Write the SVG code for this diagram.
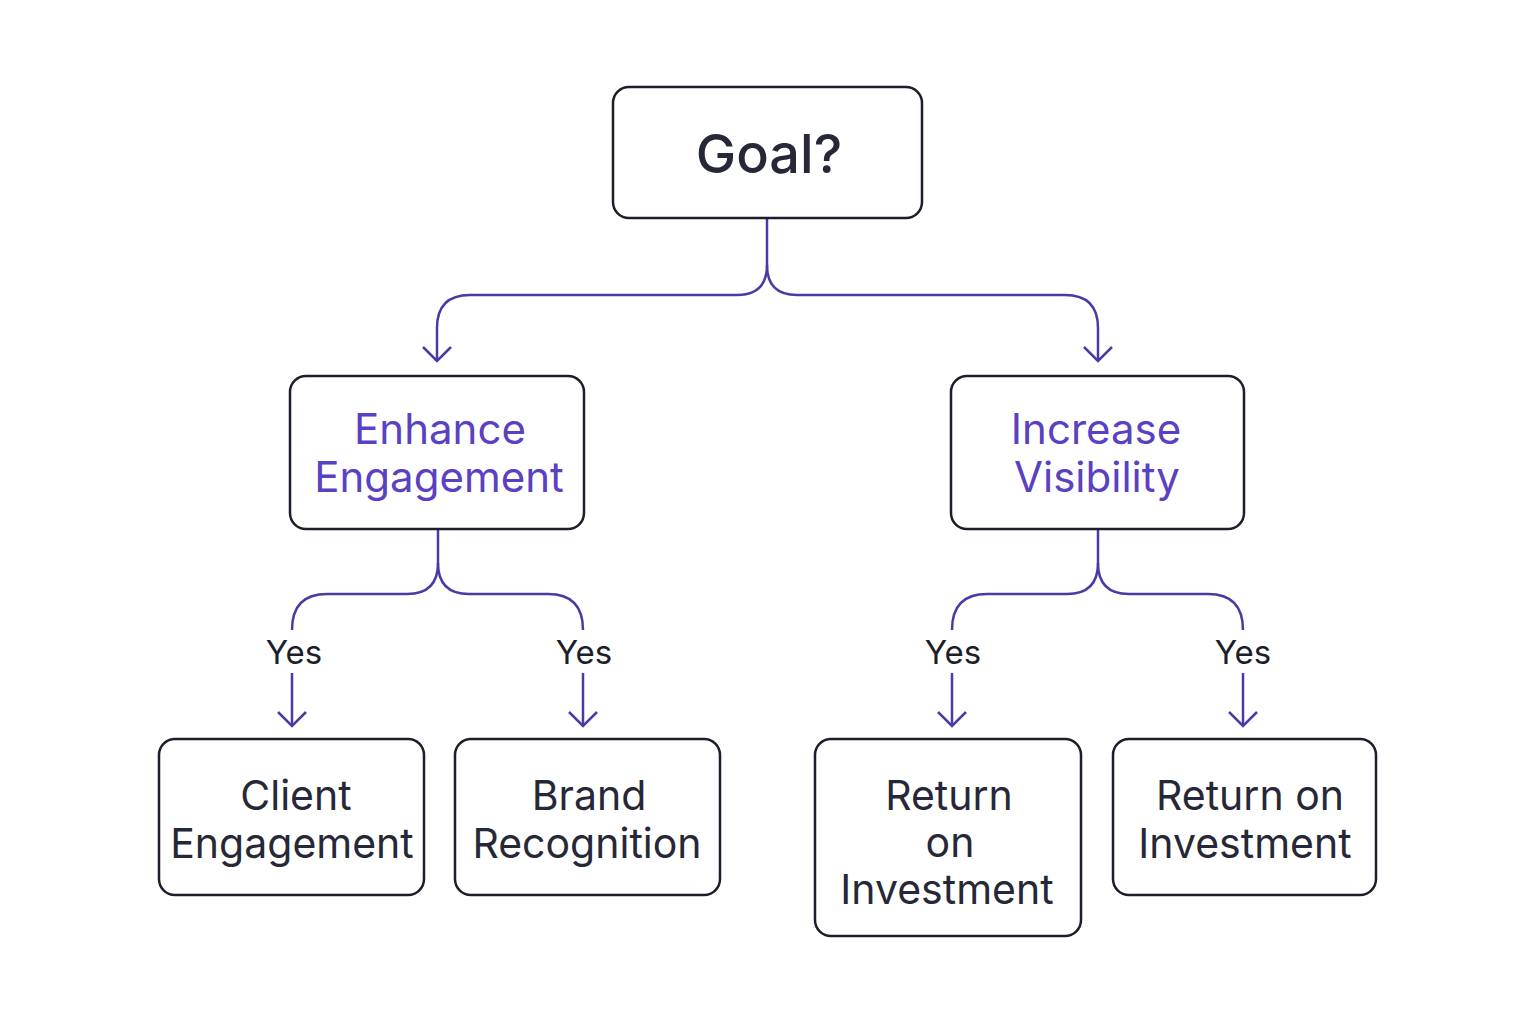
<svg xmlns="http://www.w3.org/2000/svg" width="1536" height="1024" viewBox="0 0 1536 1024">
<style>
.box{fill:#fff;stroke:#1d1e2c;stroke-width:2.5}
.t{font-family:Inter,"Noto Sans","Liberation Sans",sans-serif;fill:#262838;text-anchor:middle;font-size:41px}
.p{fill:#5a40c2;font-size:42px}
.c{fill:none;stroke:#4b3aa6;stroke-width:2.5}
.y{font-family:Inter,"Noto Sans","Liberation Sans",sans-serif;fill:#1d1e2c;text-anchor:middle;font-size:33px}
</style>
<defs>
<marker id="ah" viewBox="-16 -16 18 32" markerWidth="18" markerHeight="32" refX="0" refY="0" orient="auto" markerUnits="userSpaceOnUse">
<path d="M-14,-14 L0,0 L-14,14" fill="none" stroke="#4b3aa6" stroke-width="2.5"/>
</marker>
</defs>
<rect width="1536" height="1024" fill="#fff"/>
<g id="connectors">
<path class="c" d="M767,219 V265 Q767,295 737,295 H470 Q437,295 437,328 V361" marker-end="url(#ah)"/>
<path class="c" d="M767,265 Q767,295 797,295 H1065 Q1098,295 1098,328 V361" marker-end="url(#ah)"/>
<path class="c" d="M438,530 V563 Q438,594 407,594 H327 Q292,594 292,630"/>
<path class="c" d="M438,563 Q438,594 469,594 H548 Q583,594 583,630"/>
<path class="c" d="M292,673 V726" marker-end="url(#ah)"/>
<path class="c" d="M583,673 V726" marker-end="url(#ah)"/>
<path class="c" d="M1098,530 V563 Q1098,594 1067,594 H987 Q952,594 952,630"/>
<path class="c" d="M1098,563 Q1098,594 1129,594 H1208 Q1243,594 1243,630"/>
<path class="c" d="M952,673 V726" marker-end="url(#ah)"/>
<path class="c" d="M1243,673 V726" marker-end="url(#ah)"/>
</g>
<g id="labels">
<text class="y" x="294" y="664">Yes</text>
<text class="y" x="584" y="664">Yes</text>
<text class="y" x="953" y="664">Yes</text>
<text class="y" x="1243" y="664">Yes</text>
</g>
<g id="goal">
<rect class="box" x="613" y="87" width="309" height="131" rx="16"/>
<text class="t" x="769" y="173" font-size="54" font-weight="500" style="font-size:54px">Goal?</text>
</g>
<g id="enhance">
<rect class="box" x="290" y="376" width="294" height="153" rx="16"/>
<text class="t p" x="440" y="444">Enhance</text>
<text class="t p" x="439" y="492">Engagement</text>
</g>
<g id="increase">
<rect class="box" x="951" y="376" width="293" height="153" rx="16"/>
<text class="t p" x="1096" y="444">Increase</text>
<text class="t p" x="1097" y="492">Visibility</text>
</g>
<g id="client">
<rect class="box" x="159" y="739" width="265" height="156" rx="16"/>
<text class="t" x="296" y="810">Client</text>
<text class="t" x="292" y="858">Engagement</text>
</g>
<g id="brand">
<rect class="box" x="455" y="739" width="265" height="156" rx="16"/>
<text class="t" x="589" y="810">Brand</text>
<text class="t" x="587" y="858">Recognition</text>
</g>
<g id="roi1">
<rect class="box" x="815" y="739" width="266" height="197" rx="16"/>
<text class="t" x="949" y="810">Return</text>
<text class="t" x="950" y="857">on</text>
<text class="t" x="947" y="904">Investment</text>
</g>
<g id="roi2">
<rect class="box" x="1113" y="739" width="263" height="156" rx="16"/>
<text class="t" x="1250" y="810">Return on</text>
<text class="t" x="1245" y="858">Investment</text>
</g>
</svg>
